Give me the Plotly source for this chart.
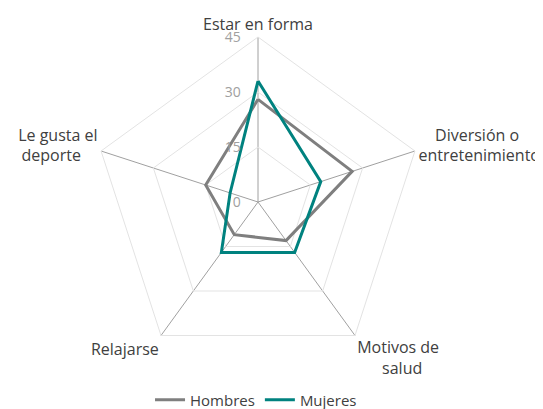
import plotly.graph_objects as go

NB = "&nbsp;"
categories = ["Estar en forma",
              NB * 4 + "Diversión o<br>entretenimiento",
              "Motivos de<br>" + NB * 6 + "salud",
              "Relajarse",
              "Le gusta el<br>deporte" + NB * 4]
hombres = [28, 27, 13, 11, 15]
mujeres = [33, 18, 17, 17, 8]
tick_vals = [0, 15, 30, 45]
tick_labels = ["0", "15", "30", "45"]

# small gap between the labels and the vertical axis
tick_text = [t + NB * 4 for t in tick_labels]

fig = go.Figure()
for name, vals, color in [("Hombres", hombres, "#7f7f7f"), ("Mujeres", mujeres, "#00827f")]:
    fig.add_trace(go.Scatterpolar(
        r=vals + vals[:1], theta=categories + categories[:1], name=name,
        mode="lines", line=dict(color=color, width=3)))

fig.update_layout(
    width=543, height=409,
    paper_bgcolor="white", plot_bgcolor="white",
    margin=dict(l=85, r=128, t=29, b=50, autoexpand=False),
    font=dict(family="Open Sans, sans-serif", size=16, color="#404040"),
    polar=dict(
        bgcolor="white",
        gridshape="linear",
        domain=dict(x=[0, 1], y=[0, 1]),
        radialaxis=dict(range=[0, 45], tickvals=tick_vals, ticktext=tick_text, angle=90,
                        side="counterclockwise", tickangle=90,
                        showline=False, gridcolor="#e3e3e3", gridwidth=1, ticks="",
                        tickfont=dict(color="#a0a0a0", size=14)),
        angularaxis=dict(rotation=90, direction="clockwise", showline=True, linecolor="#e3e3e3",
                         gridcolor="#a0a0a0", gridwidth=1, ticks="",
                         tickfont=dict(size=16, color="#404040")),
    ),
    showlegend=True,
    legend=dict(orientation="h", x=0.494, xanchor="center", y=-0.1, yanchor="middle",
                font=dict(size=15, color="#404040"), itemwidth=30, tracegroupgap=0),
)
fig.write_html("out.html")
